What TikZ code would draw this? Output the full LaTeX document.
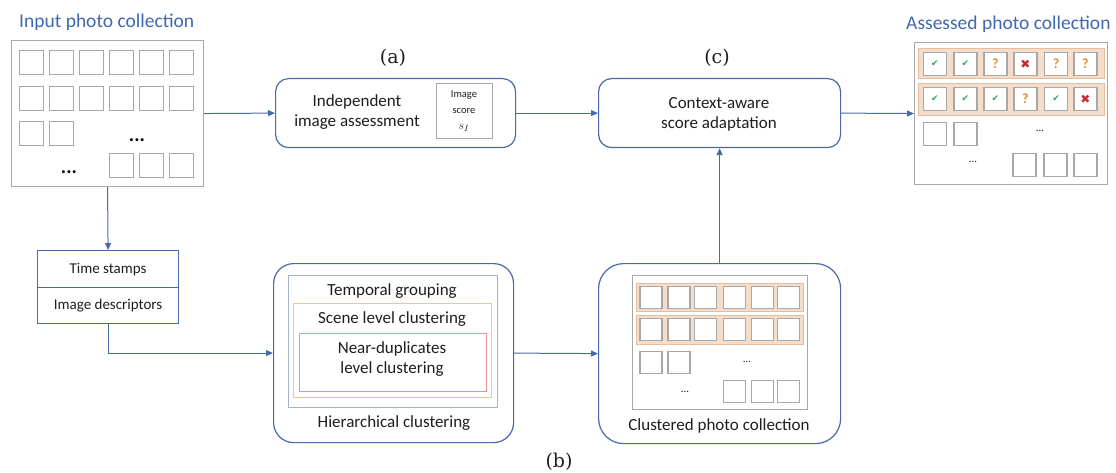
\documentclass[tikz,border=0pt]{standalone}
\usepackage{fontspec}
\setmainfont{Carlito}
\newfontfamily\symfont{DejaVu Sans}
\newfontfamily\serifx{DejaVu Serif}
\usetikzlibrary{arrows.meta}
\definecolor{fblue}{HTML}{4A69A8}
\definecolor{tblue}{HTML}{4068B2}
\definecolor{sqgray}{HTML}{A8A8A8}
\definecolor{band}{HTML}{F4DECB}
\definecolor{bandb}{HTML}{E6BE9E}
\definecolor{cgreen}{HTML}{2EA85C}
\definecolor{cred}{HTML}{C42A2E}
\definecolor{corange}{HTML}{E08C2C}
\definecolor{txt}{HTML}{1E1E1E}
\definecolor{tgcol}{HTML}{A7B3CC}
\definecolor{slcol}{HTML}{F2C87E}
\definecolor{ndcol}{HTML}{E99494}
\newcommand{\okmk}{\textcolor{cgreen}{\symfont\fontsize{9}{9}\selectfont ✔}}
\newcommand{\qmk}{\textcolor{corange}{\bfseries\fontsize{14}{14}\selectfont ?}}
\newcommand{\nomk}{\textcolor{cred}{\symfont\fontsize{12}{12}\selectfont ✖}}
\tikzset{
  gbox/.style={draw=sqgray, line width=1.1pt, fill=white, inner sep=0pt, anchor=north west},
  sq/.style={draw=sqgray, line width=1.2pt, fill=white, inner sep=0pt, anchor=north west, minimum width=#1, minimum height=#1},
  sq/.default=24pt,
  bandbox/.style={draw=bandb, fill=band, line width=0.8pt, inner sep=0pt, anchor=north west},
  rbox/.style={draw=fblue, line width=1.2pt, rounded corners=#1, inner sep=0pt, anchor=north west, fill=white},
  bbox/.style={draw=fblue, line width=1.2pt, inner sep=0pt, anchor=north west},
  nest/.style={draw=#1, line width=1.1pt, inner sep=0pt, anchor=north west},
  arr/.style={draw=fblue, line width=1pt, -{Triangle[length=7pt,width=6pt]}},
  ttl/.style={text=tblue, font=\fontsize{19.5}{22}\selectfont, inner sep=0pt},
  lbl/.style={text=txt, font=\fontsize{17}{20}\selectfont, align=center, inner sep=0pt},
  sub/.style={font=\serifx\fontsize{19}{21}\selectfont, text=txt, inner sep=0pt},
  dotsbig/.style={font=\bfseries\fontsize{20}{20}\selectfont, text=black, inner sep=0pt},
  dotssm/.style={font=\fontsize{11}{11}\selectfont, text=txt, inner sep=0pt},
}
\begin{document}
\begin{tikzpicture}[x=1pt,y=-1pt]
\useasboundingbox (0,0) rectangle (1116,473);

% ---------- Input photo collection
\node[ttl, anchor=west] (inttl) at (19,22) {Input photo collection};
\node[gbox, minimum width=192pt, minimum height=146pt] (in) at (11,40) {};
\foreach \x [count=\i] in {19,49,79,109,139,169} {
  \node[sq] (in-a\i) at (\x,50) {};
  \node[sq] (in-b\i) at (\x,86) {};
}
\node[sq] (in-c1) at (19,121) {};
\node[sq] (in-c2) at (49,121) {};
\foreach \x [count=\i] in {109,139,169} { \node[sq] (in-d\i) at (\x,153) {}; }
\node[dotsbig] (in-dots1) at (137,140) {...};
\node[dotsbig] (in-dots2) at (69,172) {...};

% ---------- (a)
\node[sub] (la) at (393,58) {(a)};
\node[rbox=13pt, minimum width=240pt, minimum height=69pt] (a) at (275,78) {};
\node[lbl] (atxt) at (357,112) {Independent\\image assessment};
\node[gbox, minimum width=56pt, minimum height=55pt] (score) at (436,83) {};
\node[text=txt, font=\fontsize{10.5}{16}\selectfont, align=center, inner sep=0pt] (scoretxt) at (464,111)
  {Image\\score\\{\fontsize{13}{13}\selectfont$s_I$}};

% ---------- (c)
\node[sub] (lc) at (717,58) {(c)};
\node[rbox=13pt, minimum width=242pt, minimum height=69pt] (c) at (598,78) {};
\node[lbl] (ctxt) at (719,114) {Context-aware\\score adaptation};

% ---------- Assessed photo collection
\node[ttl, anchor=west] (asttl) at (906,24) {Assessed photo collection};
\node[gbox, minimum width=193pt, minimum height=142pt] (as) at (914,42) {};
\node[bandbox, minimum width=186pt, minimum height=30pt] (asband1) at (918,48) {};
\node[bandbox, minimum width=186pt, minimum height=32pt] (asband2) at (918,83) {};
\foreach \x/\m [count=\i] in {922.7/\okmk,953.3/\okmk,983.3/\qmk,1013.3/\nomk,1044/\qmk,1073.3/\qmk} {
  \node[sq=23pt] (as-a\i) at (\x,52) {};
  \node (as-am\i) at (as-a\i.center) {\m};
}
\foreach \x/\m [count=\i] in {922.7/\okmk,953.3/\okmk,983.3/\okmk,1013.3/\qmk,1044/\okmk,1073.3/\nomk} {
  \node[sq=23pt] (as-b\i) at (\x,87) {};
  \node (as-bm\i) at (as-b\i.center) {\m};
}
\node[sq=23pt] (as-c1) at (922.7,122) {};
\node[sq=23pt] (as-c2) at (953.3,122) {};
\foreach \x [count=\i] in {1012.3,1043.3,1073.3} { \node[sq=23pt] (as-d\i) at (\x,153) {}; }
\node[dotssm] (as-dots1) at (1040,131) {...};
\node[dotssm] (as-dots2) at (973,162) {...};

% ---------- Time stamps / Image descriptors
\node[bbox, minimum width=141pt, minimum height=37pt, font=\fontsize{15}{17}\selectfont, text=txt] (ts) at (37,250) {Time stamps};
\node[bbox, minimum width=141pt, minimum height=36pt, font=\fontsize{15}{17}\selectfont, text=txt] (id) at (37,287) {Image descriptors};

% ---------- Hierarchical clustering (b)
\node[rbox=20pt, minimum width=240pt, minimum height=179pt] (hier) at (273,263) {};
\node[nest=tgcol, minimum width=209pt, minimum height=132pt] (tg) at (288,275) {};
\node[nest=slcol, minimum width=198pt, minimum height=94pt] (sl) at (293,303) {};
\node[nest=ndcol, minimum width=187pt, minimum height=58pt] (nd) at (299,333) {};
\node[lbl] (tgtxt) at (392,291) {Temporal grouping};
\node[lbl] (sltxt) at (392,319) {Scene level clustering};
\node[lbl] (ndtxt) at (392,359) {Near-duplicates\\level clustering};
\node[lbl] (hiertxt) at (394,423) {Hierarchical clustering};
\node[sub] (lb) at (559,462) {(b)};

% ---------- Clustered photo collection
\node[rbox=25pt, minimum width=242pt, minimum height=180pt] (clus) at (598,263) {};
\node[gbox, minimum width=175pt, minimum height=134pt] (clin) at (632,275) {};
\node[bandbox, minimum width=167pt, minimum height=28pt] (clband1) at (636,283) {};
\node[bandbox, minimum width=167pt, minimum height=29pt] (clband2) at (636,315) {};
\foreach \x [count=\i] in {639.3,667.3,694,722.7,750.7,776.7} {
  \node[sq=22pt] (cl-a\i) at (\x,286) {};
  \node[sq=22pt] (cl-b\i) at (\x,317.5) {};
}
\node[sq=22pt] (cl-c1) at (639.3,351) {};
\node[sq=22pt] (cl-c2) at (667.3,351) {};
\foreach \x [count=\i] in {722.7,750.7,776.7} { \node[sq=22pt] (cl-d\i) at (\x,380) {}; }
\node[dotssm] (cl-dots1) at (747,362) {...};
\node[dotssm] (cl-dots2) at (685,392) {...};
\node[lbl] (clustxt) at (719,426) {Clustered photo collection};

% ---------- connectors
\draw[arr] (in.east) -- (a.west);
\draw[arr] (a.east) -- (c.west);
\draw[arr] (c.east) -- (as.west);
\draw[arr] (in.south) -- (ts.north);
\draw[arr] (id.south) |- (hier.west);
\draw[arr] (hier.east) -- (clus.west);
\draw[arr] (clus.north) -- (c.south);
\end{tikzpicture}
\end{document}
